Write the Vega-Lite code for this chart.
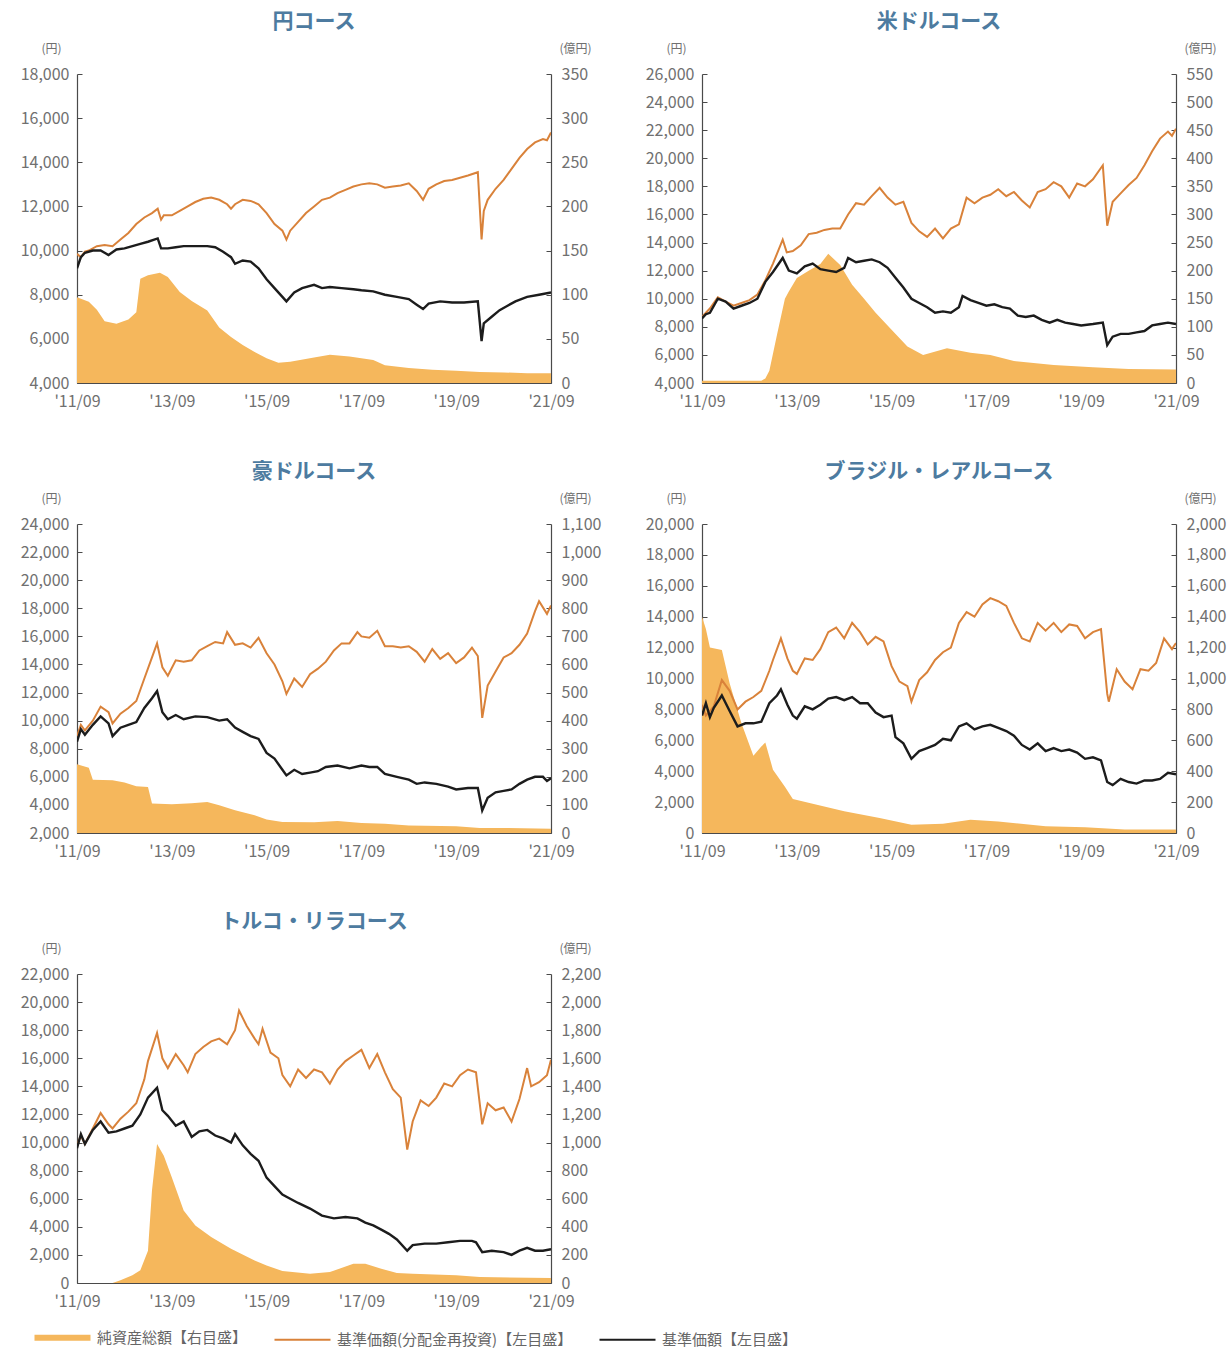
{
"$schema": "https://vega.github.io/schema/vega-lite/v6.json",
"padding": {"left": 20, "right": 5, "top": 11, "bottom": 5},
"background": "white",
"config": {
 "view": {"stroke": null},
 "font": "Noto Sans CJK JP",
 "axis": {"grid": false, "domainColor": "#4a4a4a", "tickColor": "#4a4a4a", "domainWidth": 1.2, "labelColor": "#707070", "labelFontSize": 16, "titleColor": "#707070", "titleFontSize": 12, "titleFontWeight": "normal", "labelFlush": false, "labelOverlap": false},
 "title": {"fontSize": 21, "fontWeight": "bold", "color": "#4d7ba0", "offset": 10},
 "legend": {"orient": "none", "legendX": -22, "legendY": 1256, "direction": "horizontal", "padding": 0, "symbolType": "stroke", "symbolSize": 3136, "symbolStrokeWidth": 2, "labelFontSize": 15, "labelColor": "#666666", "labelOffset": 27, "columnPadding": 22, "labelLimit": 0, "title": null}
},
"resolve": {"scale": {"color": "shared"}, "legend": {"color": "shared"}},
"columns": 2,
"spacing": {"row": 52, "column": 44},
"datasets": {
 "j_t": [{"d":"2011-09","v":97},{"d":"2011-12","v":92},{"d":"2012-02","v":83},{"d":"2012-04","v":70},{"d":"2012-07","v":67},{"d":"2012-10","v":72},{"d":"2012-12","v":80},{"d":"2013-01","v":118},{"d":"2013-03","v":122},{"d":"2013-06","v":125},{"d":"2013-08","v":120},{"d":"2013-11","v":103},{"d":"2014-02","v":93},{"d":"2014-06","v":82},{"d":"2014-09","v":63},{"d":"2014-12","v":52},{"d":"2015-03","v":43},{"d":"2015-06","v":35},{"d":"2015-09","v":28},{"d":"2015-12","v":23},{"d":"2016-03","v":24},{"d":"2016-09","v":29},{"d":"2017-01","v":32},{"d":"2017-06","v":30},{"d":"2017-12","v":26},{"d":"2018-03","v":20},{"d":"2018-09","v":17},{"d":"2019-03","v":15},{"d":"2019-09","v":14},{"d":"2020-03","v":12.5},{"d":"2020-09","v":12},{"d":"2021-03","v":11},{"d":"2021-09","v":11}],
 "j_r": [{"d":"2011-09","v":9850},{"d":"2011-10","v":9700},{"d":"2011-11","v":9950},{"d":"2011-12","v":10000},{"d":"2012-02","v":10200},{"d":"2012-04","v":10250},{"d":"2012-06","v":10200},{"d":"2012-08","v":10500},{"d":"2012-10","v":10800},{"d":"2012-12","v":11200},{"d":"2013-02","v":11500},{"d":"2013-04","v":11700},{"d":"2013-05-15","v":11900},{"d":"2013-06-10","v":11400},{"d":"2013-07","v":11600},{"d":"2013-09","v":11600},{"d":"2013-11","v":11800},{"d":"2014-01","v":12000},{"d":"2014-03","v":12200},{"d":"2014-05","v":12350},{"d":"2014-07","v":12400},{"d":"2014-09","v":12300},{"d":"2014-11","v":12100},{"d":"2014-12","v":11900},{"d":"2015-01","v":12100},{"d":"2015-03","v":12300},{"d":"2015-05","v":12250},{"d":"2015-07","v":12100},{"d":"2015-09","v":11700},{"d":"2015-11","v":11200},{"d":"2016-01","v":10900},{"d":"2016-02","v":10500},{"d":"2016-03","v":10900},{"d":"2016-05","v":11300},{"d":"2016-07","v":11700},{"d":"2016-09","v":12000},{"d":"2016-11","v":12300},{"d":"2017-01","v":12400},{"d":"2017-03","v":12600},{"d":"2017-05","v":12750},{"d":"2017-07","v":12900},{"d":"2017-09","v":13000},{"d":"2017-11","v":13050},{"d":"2018-01","v":13000},{"d":"2018-03","v":12850},{"d":"2018-05","v":12900},{"d":"2018-07","v":12950},{"d":"2018-09","v":13050},{"d":"2018-11","v":12700},{"d":"2018-12-20","v":12300},{"d":"2019-02","v":12800},{"d":"2019-04","v":13000},{"d":"2019-06","v":13150},{"d":"2019-08","v":13200},{"d":"2019-10","v":13300},{"d":"2019-12","v":13400},{"d":"2020-02-15","v":13550},{"d":"2020-03-15","v":10500},{"d":"2020-04","v":11800},{"d":"2020-05","v":12300},{"d":"2020-07","v":12800},{"d":"2020-09","v":13200},{"d":"2020-11","v":13700},{"d":"2021-01","v":14200},{"d":"2021-03","v":14600},{"d":"2021-05","v":14900},{"d":"2021-07","v":15050},{"d":"2021-08","v":15000},{"d":"2021-09","v":15350}],
 "j_n": [{"d":"2011-09","v":9200},{"d":"2011-10","v":9700},{"d":"2011-11","v":9900},{"d":"2012-01","v":10000},{"d":"2012-03","v":10000},{"d":"2012-05","v":9800},{"d":"2012-07","v":10050},{"d":"2012-09","v":10100},{"d":"2012-11","v":10200},{"d":"2013-01","v":10300},{"d":"2013-03","v":10400},{"d":"2013-05-15","v":10550},{"d":"2013-06-10","v":10100},{"d":"2013-08","v":10100},{"d":"2013-10","v":10150},{"d":"2013-12","v":10200},{"d":"2014-03","v":10200},{"d":"2014-06","v":10200},{"d":"2014-08","v":10150},{"d":"2014-10","v":9950},{"d":"2014-12","v":9700},{"d":"2015-01","v":9400},{"d":"2015-03","v":9550},{"d":"2015-05","v":9500},{"d":"2015-07","v":9200},{"d":"2015-09","v":8700},{"d":"2015-11","v":8300},{"d":"2016-01","v":7900},{"d":"2016-02","v":7700},{"d":"2016-04","v":8100},{"d":"2016-06","v":8300},{"d":"2016-09","v":8450},{"d":"2016-11","v":8300},{"d":"2017-01","v":8350},{"d":"2017-04","v":8300},{"d":"2017-07","v":8250},{"d":"2017-09","v":8200},{"d":"2017-12","v":8150},{"d":"2018-03","v":8000},{"d":"2018-06","v":7900},{"d":"2018-09","v":7800},{"d":"2018-11","v":7550},{"d":"2018-12-20","v":7350},{"d":"2019-02","v":7600},{"d":"2019-05","v":7700},{"d":"2019-08","v":7650},{"d":"2019-11","v":7650},{"d":"2020-02-15","v":7700},{"d":"2020-03-15","v":5900},{"d":"2020-04","v":6700},{"d":"2020-06","v":7000},{"d":"2020-08","v":7300},{"d":"2020-10","v":7500},{"d":"2020-12","v":7700},{"d":"2021-03","v":7900},{"d":"2021-06","v":8000},{"d":"2021-09","v":8100}],
 "u_t": [{"d":"2011-09","v":4},{"d":"2012-12","v":4},{"d":"2013-01","v":8},{"d":"2013-02","v":22},{"d":"2013-04","v":86},{"d":"2013-06","v":150},{"d":"2013-07","v":163},{"d":"2013-09","v":187},{"d":"2013-12","v":200},{"d":"2014-03","v":212},{"d":"2014-05","v":230},{"d":"2014-08","v":210},{"d":"2014-11","v":175},{"d":"2015-02","v":150},{"d":"2015-05","v":125},{"d":"2015-09","v":95},{"d":"2016-01","v":65},{"d":"2016-05","v":50},{"d":"2016-11","v":62},{"d":"2017-05","v":54},{"d":"2017-10","v":50},{"d":"2018-04","v":39},{"d":"2019-02","v":32},{"d":"2019-12","v":28},{"d":"2020-09","v":25},{"d":"2021-09","v":24}],
 "u_r": [{"d":"2011-09","v":8700},{"d":"2011-10","v":9000},{"d":"2011-11","v":9300},{"d":"2012-01","v":10100},{"d":"2012-03","v":9800},{"d":"2012-05","v":9500},{"d":"2012-07","v":9700},{"d":"2012-09","v":9900},{"d":"2012-11","v":10300},{"d":"2013-01","v":11300},{"d":"2013-03","v":12500},{"d":"2013-05-15","v":14200},{"d":"2013-06-15","v":13300},{"d":"2013-08","v":13400},{"d":"2013-10","v":13800},{"d":"2013-12","v":14600},{"d":"2014-02","v":14700},{"d":"2014-04","v":14900},{"d":"2014-06","v":15000},{"d":"2014-08","v":15000},{"d":"2014-10","v":16000},{"d":"2014-12","v":16800},{"d":"2015-02","v":16700},{"d":"2015-04","v":17300},{"d":"2015-06","v":17900},{"d":"2015-08","v":17200},{"d":"2015-10","v":16700},{"d":"2015-12","v":16900},{"d":"2016-02","v":15400},{"d":"2016-04","v":14800},{"d":"2016-06","v":14400},{"d":"2016-08","v":15000},{"d":"2016-10","v":14300},{"d":"2016-12","v":15000},{"d":"2017-02","v":15300},{"d":"2017-04","v":17200},{"d":"2017-06","v":16800},{"d":"2017-08","v":17200},{"d":"2017-10","v":17400},{"d":"2017-12","v":17800},{"d":"2018-02","v":17300},{"d":"2018-04","v":17600},{"d":"2018-06","v":17000},{"d":"2018-08","v":16500},{"d":"2018-10","v":17600},{"d":"2018-12","v":17800},{"d":"2019-02","v":18300},{"d":"2019-04","v":18000},{"d":"2019-06","v":17200},{"d":"2019-08","v":18200},{"d":"2019-10","v":18000},{"d":"2019-12","v":18500},{"d":"2020-02-15","v":19500},{"d":"2020-03-20","v":15200},{"d":"2020-05","v":16900},{"d":"2020-07","v":17500},{"d":"2020-09","v":18100},{"d":"2020-11","v":18600},{"d":"2021-01","v":19500},{"d":"2021-03","v":20500},{"d":"2021-05","v":21400},{"d":"2021-07","v":21900},{"d":"2021-08","v":21600},{"d":"2021-09","v":22100}],
 "u_n": [{"d":"2011-09","v":8600},{"d":"2011-10","v":8900},{"d":"2011-11","v":9000},{"d":"2012-01","v":10000},{"d":"2012-03","v":9800},{"d":"2012-05","v":9300},{"d":"2012-07","v":9500},{"d":"2012-09","v":9700},{"d":"2012-11","v":10000},{"d":"2013-01","v":11200},{"d":"2013-03","v":11900},{"d":"2013-05-15","v":12900},{"d":"2013-07","v":12000},{"d":"2013-09","v":11800},{"d":"2013-11","v":12300},{"d":"2014-01","v":12500},{"d":"2014-03","v":12100},{"d":"2014-05","v":12000},{"d":"2014-07","v":11900},{"d":"2014-09","v":12200},{"d":"2014-10","v":12900},{"d":"2014-12","v":12600},{"d":"2015-02","v":12700},{"d":"2015-04","v":12800},{"d":"2015-06","v":12600},{"d":"2015-08","v":12200},{"d":"2015-10","v":11500},{"d":"2015-12","v":10800},{"d":"2016-02","v":10000},{"d":"2016-04","v":9700},{"d":"2016-06","v":9400},{"d":"2016-08","v":9000},{"d":"2016-10","v":9100},{"d":"2016-12","v":9000},{"d":"2017-02","v":9400},{"d":"2017-03","v":10200},{"d":"2017-05","v":9900},{"d":"2017-07","v":9700},{"d":"2017-09","v":9500},{"d":"2017-11","v":9600},{"d":"2018-01","v":9400},{"d":"2018-03","v":9300},{"d":"2018-05","v":8800},{"d":"2018-07","v":8700},{"d":"2018-09","v":8800},{"d":"2018-11","v":8500},{"d":"2019-01","v":8300},{"d":"2019-03","v":8500},{"d":"2019-05","v":8300},{"d":"2019-07","v":8200},{"d":"2019-09","v":8100},{"d":"2019-12","v":8200},{"d":"2020-02-15","v":8300},{"d":"2020-03-20","v":6700},{"d":"2020-05","v":7300},{"d":"2020-07","v":7500},{"d":"2020-09","v":7500},{"d":"2020-11","v":7600},{"d":"2021-01","v":7700},{"d":"2021-03","v":8100},{"d":"2021-05","v":8200},{"d":"2021-07","v":8300},{"d":"2021-09","v":8200}],
 "a_t": [{"d":"2011-09","v":245},{"d":"2011-12","v":232},{"d":"2012-01","v":190},{"d":"2012-06","v":188},{"d":"2012-09","v":180},{"d":"2012-12","v":166},{"d":"2013-03","v":164},{"d":"2013-04","v":105},{"d":"2013-09","v":102},{"d":"2014-02","v":106},{"d":"2014-06","v":110},{"d":"2014-09","v":99},{"d":"2015-01","v":81},{"d":"2015-06","v":63},{"d":"2015-09","v":48},{"d":"2016-01","v":39},{"d":"2016-09","v":38},{"d":"2017-03","v":43},{"d":"2017-09","v":36},{"d":"2018-03","v":33},{"d":"2018-09","v":27},{"d":"2019-09","v":24},{"d":"2020-03","v":18},{"d":"2020-09","v":18},{"d":"2021-09","v":15}],
 "a_r": [{"d":"2011-09","v":8900},{"d":"2011-10","v":9700},{"d":"2011-11","v":9300},{"d":"2012-01","v":10000},{"d":"2012-03","v":11000},{"d":"2012-05","v":10600},{"d":"2012-06","v":9800},{"d":"2012-08","v":10500},{"d":"2012-10","v":10900},{"d":"2012-12","v":11400},{"d":"2013-02","v":13000},{"d":"2013-04","v":14500},{"d":"2013-05-10","v":15500},{"d":"2013-06-20","v":13800},{"d":"2013-08","v":13200},{"d":"2013-10","v":14300},{"d":"2013-12","v":14200},{"d":"2014-02","v":14300},{"d":"2014-04","v":15000},{"d":"2014-06","v":15300},{"d":"2014-08","v":15600},{"d":"2014-10","v":15500},{"d":"2014-11","v":16300},{"d":"2015-01","v":15400},{"d":"2015-03","v":15500},{"d":"2015-05","v":15200},{"d":"2015-07","v":15900},{"d":"2015-09","v":14800},{"d":"2015-11","v":14000},{"d":"2016-01","v":12800},{"d":"2016-02","v":11900},{"d":"2016-04","v":13000},{"d":"2016-06","v":12400},{"d":"2016-08","v":13300},{"d":"2016-10","v":13700},{"d":"2016-12","v":14200},{"d":"2017-02","v":15000},{"d":"2017-04","v":15500},{"d":"2017-06","v":15500},{"d":"2017-08","v":16300},{"d":"2017-09","v":16000},{"d":"2017-11","v":15900},{"d":"2018-01","v":16400},{"d":"2018-03","v":15300},{"d":"2018-05","v":15300},{"d":"2018-07","v":15200},{"d":"2018-09","v":15300},{"d":"2018-11","v":14900},{"d":"2019-01","v":14200},{"d":"2019-03","v":15100},{"d":"2019-05","v":14400},{"d":"2019-07","v":14800},{"d":"2019-09","v":14100},{"d":"2019-11","v":14500},{"d":"2020-01","v":15200},{"d":"2020-02-15","v":14600},{"d":"2020-03-20","v":10200},{"d":"2020-05","v":12500},{"d":"2020-07","v":13500},{"d":"2020-09","v":14500},{"d":"2020-11","v":14800},{"d":"2021-01","v":15400},{"d":"2021-03","v":16200},{"d":"2021-05","v":17800},{"d":"2021-06","v":18500},{"d":"2021-08","v":17600},{"d":"2021-09","v":18200}],
 "a_n": [{"d":"2011-09","v":8500},{"d":"2011-10","v":9400},{"d":"2011-11","v":9000},{"d":"2012-01","v":9700},{"d":"2012-03","v":10300},{"d":"2012-05","v":9800},{"d":"2012-06","v":8900},{"d":"2012-08","v":9500},{"d":"2012-10","v":9700},{"d":"2012-12","v":9900},{"d":"2013-02","v":10900},{"d":"2013-04","v":11600},{"d":"2013-05-10","v":12100},{"d":"2013-06-20","v":10600},{"d":"2013-08","v":10100},{"d":"2013-10","v":10400},{"d":"2013-12","v":10100},{"d":"2014-03","v":10300},{"d":"2014-06","v":10250},{"d":"2014-09","v":10000},{"d":"2014-11","v":10100},{"d":"2015-01","v":9500},{"d":"2015-03","v":9200},{"d":"2015-05","v":8900},{"d":"2015-07","v":8700},{"d":"2015-09","v":7700},{"d":"2015-11","v":7300},{"d":"2016-01","v":6500},{"d":"2016-02","v":6100},{"d":"2016-04","v":6500},{"d":"2016-06","v":6200},{"d":"2016-08","v":6300},{"d":"2016-10","v":6400},{"d":"2016-12","v":6700},{"d":"2017-03","v":6800},{"d":"2017-06","v":6600},{"d":"2017-09","v":6800},{"d":"2017-11","v":6700},{"d":"2018-01","v":6700},{"d":"2018-03","v":6200},{"d":"2018-06","v":6000},{"d":"2018-09","v":5800},{"d":"2018-11","v":5500},{"d":"2019-01","v":5600},{"d":"2019-04","v":5500},{"d":"2019-07","v":5300},{"d":"2019-09","v":5100},{"d":"2019-12","v":5200},{"d":"2020-02-15","v":5200},{"d":"2020-03-20","v":3600},{"d":"2020-05","v":4500},{"d":"2020-07","v":4900},{"d":"2020-09","v":5000},{"d":"2020-11","v":5100},{"d":"2021-01","v":5500},{"d":"2021-03","v":5800},{"d":"2021-05","v":6000},{"d":"2021-07","v":6000},{"d":"2021-08","v":5700},{"d":"2021-09","v":5900}],
 "b_t": [{"d":"2011-09","v":1400},{"d":"2011-10","v":1320},{"d":"2011-11","v":1200},{"d":"2012-02","v":1185},{"d":"2012-04","v":970},{"d":"2012-07","v":710},{"d":"2012-10","v":500},{"d":"2012-12","v":560},{"d":"2013-01","v":585},{"d":"2013-03","v":410},{"d":"2013-06","v":300},{"d":"2013-08","v":220},{"d":"2014-01","v":190},{"d":"2014-09","v":140},{"d":"2015-06","v":97},{"d":"2016-02","v":54},{"d":"2016-10","v":60},{"d":"2017-05","v":86},{"d":"2017-12","v":75},{"d":"2018-12","v":43},{"d":"2019-10","v":37},{"d":"2020-08","v":22},{"d":"2021-09","v":22}],
 "b_r": [{"d":"2011-09","v":8300},{"d":"2011-10","v":7600},{"d":"2011-12","v":8200},{"d":"2012-02","v":9900},{"d":"2012-04","v":9200},{"d":"2012-06","v":8000},{"d":"2012-08","v":8500},{"d":"2012-10","v":8800},{"d":"2012-12","v":9200},{"d":"2013-02","v":10500},{"d":"2013-03","v":11200},{"d":"2013-05","v":12600},{"d":"2013-06-20","v":11300},{"d":"2013-08","v":10500},{"d":"2013-09","v":10300},{"d":"2013-11","v":11300},{"d":"2014-01","v":11200},{"d":"2014-03","v":11900},{"d":"2014-05","v":13000},{"d":"2014-07","v":13300},{"d":"2014-09","v":12600},{"d":"2014-11","v":13600},{"d":"2015-01","v":13000},{"d":"2015-03","v":12200},{"d":"2015-05","v":12700},{"d":"2015-07","v":12400},{"d":"2015-09","v":10800},{"d":"2015-11","v":9800},{"d":"2016-01","v":9500},{"d":"2016-02","v":8500},{"d":"2016-04","v":9900},{"d":"2016-06","v":10400},{"d":"2016-08","v":11200},{"d":"2016-10","v":11700},{"d":"2016-12","v":12000},{"d":"2017-02","v":13600},{"d":"2017-04","v":14300},{"d":"2017-06","v":14000},{"d":"2017-08","v":14800},{"d":"2017-10","v":15200},{"d":"2017-12","v":15000},{"d":"2018-02","v":14700},{"d":"2018-04","v":13600},{"d":"2018-06","v":12600},{"d":"2018-08","v":12400},{"d":"2018-10","v":13600},{"d":"2018-12","v":13100},{"d":"2019-02","v":13600},{"d":"2019-04","v":13000},{"d":"2019-06","v":13500},{"d":"2019-08","v":13400},{"d":"2019-10","v":12600},{"d":"2019-12","v":13000},{"d":"2020-02","v":13200},{"d":"2020-03-20","v":9000},{"d":"2020-04","v":8500},{"d":"2020-06","v":10600},{"d":"2020-08","v":9800},{"d":"2020-10","v":9300},{"d":"2020-12","v":10600},{"d":"2021-02","v":10500},{"d":"2021-04","v":11000},{"d":"2021-06","v":12600},{"d":"2021-08","v":11900},{"d":"2021-09","v":12300}],
 "b_n": [{"d":"2011-09","v":7600},{"d":"2011-10","v":8400},{"d":"2011-11","v":7500},{"d":"2011-12","v":8100},{"d":"2012-02","v":8900},{"d":"2012-04","v":7900},{"d":"2012-06","v":6900},{"d":"2012-08","v":7100},{"d":"2012-10","v":7100},{"d":"2012-12","v":7200},{"d":"2013-02","v":8400},{"d":"2013-04","v":8900},{"d":"2013-05","v":9300},{"d":"2013-06-20","v":8300},{"d":"2013-08","v":7600},{"d":"2013-09","v":7400},{"d":"2013-11","v":8200},{"d":"2014-01","v":8000},{"d":"2014-03","v":8300},{"d":"2014-05","v":8700},{"d":"2014-07","v":8800},{"d":"2014-09","v":8600},{"d":"2014-11","v":8800},{"d":"2015-01","v":8400},{"d":"2015-03","v":8400},{"d":"2015-05","v":7800},{"d":"2015-07","v":7500},{"d":"2015-09","v":7600},{"d":"2015-10","v":6200},{"d":"2015-12","v":5800},{"d":"2016-02","v":4800},{"d":"2016-04","v":5300},{"d":"2016-06","v":5500},{"d":"2016-08","v":5700},{"d":"2016-10","v":6100},{"d":"2016-12","v":6000},{"d":"2017-02","v":6900},{"d":"2017-04","v":7100},{"d":"2017-06","v":6700},{"d":"2017-08","v":6900},{"d":"2017-10","v":7000},{"d":"2017-12","v":6800},{"d":"2018-02","v":6600},{"d":"2018-04","v":6300},{"d":"2018-06","v":5700},{"d":"2018-08","v":5400},{"d":"2018-10","v":5800},{"d":"2018-12","v":5300},{"d":"2019-02","v":5500},{"d":"2019-04","v":5300},{"d":"2019-06","v":5400},{"d":"2019-08","v":5200},{"d":"2019-10","v":4800},{"d":"2019-12","v":4900},{"d":"2020-02","v":4700},{"d":"2020-03-20","v":3300},{"d":"2020-05","v":3100},{"d":"2020-07","v":3500},{"d":"2020-09","v":3300},{"d":"2020-11","v":3200},{"d":"2021-01","v":3400},{"d":"2021-03","v":3400},{"d":"2021-05","v":3500},{"d":"2021-07","v":3900},{"d":"2021-09","v":3800}],
 "t_t": [{"d":"2011-09","v":0},{"d":"2012-06","v":0},{"d":"2012-08","v":20},{"d":"2012-11","v":55},{"d":"2013-01","v":90},{"d":"2013-03","v":230},{"d":"2013-04","v":660},{"d":"2013-05-10","v":990},{"d":"2013-07","v":906},{"d":"2013-09","v":752},{"d":"2013-12","v":516},{"d":"2014-03","v":410},{"d":"2014-07","v":327},{"d":"2014-12","v":244},{"d":"2015-06","v":161},{"d":"2015-09","v":125},{"d":"2016-01","v":85},{"d":"2016-08","v":66},{"d":"2017-01","v":78},{"d":"2017-07","v":137},{"d":"2017-10","v":137},{"d":"2018-02","v":102},{"d":"2018-06","v":71},{"d":"2018-10","v":66},{"d":"2019-09","v":55},{"d":"2020-03","v":43},{"d":"2021-09","v":35}],
 "t_r": [{"d":"2011-09","v":9800},{"d":"2011-10","v":10500},{"d":"2011-11","v":9900},{"d":"2012-01","v":11000},{"d":"2012-03","v":12100},{"d":"2012-05","v":11300},{"d":"2012-06","v":11000},{"d":"2012-08","v":11700},{"d":"2012-10","v":12200},{"d":"2012-12","v":12800},{"d":"2013-02","v":14500},{"d":"2013-03","v":15800},{"d":"2013-05-10","v":17800},{"d":"2013-06-20","v":16000},{"d":"2013-08","v":15300},{"d":"2013-10","v":16300},{"d":"2013-12","v":15500},{"d":"2014-01","v":15000},{"d":"2014-03","v":16300},{"d":"2014-05","v":16800},{"d":"2014-07","v":17200},{"d":"2014-09","v":17400},{"d":"2014-11","v":17000},{"d":"2015-01","v":18000},{"d":"2015-02","v":19400},{"d":"2015-04","v":18300},{"d":"2015-06","v":17400},{"d":"2015-07","v":17000},{"d":"2015-08","v":18100},{"d":"2015-10","v":16400},{"d":"2015-12","v":16000},{"d":"2016-01","v":14800},{"d":"2016-03","v":14000},{"d":"2016-05","v":15200},{"d":"2016-07","v":14600},{"d":"2016-09","v":15200},{"d":"2016-11","v":15000},{"d":"2017-01","v":14200},{"d":"2017-03","v":15200},{"d":"2017-05","v":15800},{"d":"2017-07","v":16200},{"d":"2017-09","v":16600},{"d":"2017-11","v":15300},{"d":"2018-01","v":16300},{"d":"2018-03","v":15000},{"d":"2018-05","v":13800},{"d":"2018-07","v":13200},{"d":"2018-08-20","v":9500},{"d":"2018-10","v":11500},{"d":"2018-12","v":13000},{"d":"2019-02","v":12600},{"d":"2019-04","v":13200},{"d":"2019-06","v":14200},{"d":"2019-08","v":14000},{"d":"2019-10","v":14800},{"d":"2019-12","v":15200},{"d":"2020-02","v":15000},{"d":"2020-03-20","v":11300},{"d":"2020-05","v":12800},{"d":"2020-07","v":12300},{"d":"2020-09","v":12500},{"d":"2020-11","v":11500},{"d":"2021-01","v":13100},{"d":"2021-03","v":15300},{"d":"2021-04","v":14000},{"d":"2021-06","v":14300},{"d":"2021-08","v":14800},{"d":"2021-09","v":15900}],
 "t_n": [{"d":"2011-09","v":9600},{"d":"2011-10","v":10600},{"d":"2011-11","v":9900},{"d":"2012-01","v":10900},{"d":"2012-03","v":11500},{"d":"2012-05","v":10700},{"d":"2012-07","v":10800},{"d":"2012-09","v":11000},{"d":"2012-11","v":11200},{"d":"2013-01","v":12000},{"d":"2013-03","v":13200},{"d":"2013-05-10","v":13900},{"d":"2013-06-20","v":12300},{"d":"2013-08","v":11900},{"d":"2013-10","v":11200},{"d":"2013-12","v":11500},{"d":"2014-02","v":10400},{"d":"2014-04","v":10800},{"d":"2014-06","v":10900},{"d":"2014-08","v":10500},{"d":"2014-10","v":10300},{"d":"2014-12","v":10000},{"d":"2015-01","v":10600},{"d":"2015-03","v":9800},{"d":"2015-05","v":9200},{"d":"2015-07","v":8700},{"d":"2015-09","v":7500},{"d":"2015-11","v":6900},{"d":"2016-01","v":6300},{"d":"2016-03","v":6000},{"d":"2016-05","v":5700},{"d":"2016-08","v":5300},{"d":"2016-11","v":4800},{"d":"2017-02","v":4600},{"d":"2017-05","v":4700},{"d":"2017-08","v":4600},{"d":"2017-10","v":4300},{"d":"2017-12","v":4100},{"d":"2018-02","v":3800},{"d":"2018-04","v":3500},{"d":"2018-06","v":3100},{"d":"2018-08-20","v":2300},{"d":"2018-10","v":2700},{"d":"2019-01","v":2800},{"d":"2019-04","v":2800},{"d":"2019-07","v":2900},{"d":"2019-10","v":3000},{"d":"2020-01","v":3000},{"d":"2020-02","v":2900},{"d":"2020-03-20","v":2200},{"d":"2020-06","v":2300},{"d":"2020-09","v":2200},{"d":"2020-11","v":2000},{"d":"2021-01","v":2300},{"d":"2021-03","v":2500},{"d":"2021-05","v":2300},{"d":"2021-07","v":2300},{"d":"2021-09","v":2400}]
},
"concat": [
 {"title": "円コース", "width": 474, "height": 309, "resolve": {"scale": {"y": "independent"}},
  "layer": [
   {"data": {"name": "j_t"}, "mark": {"type": "area", "opacity": 1, "clip": true},
    "encoding": {
     "x": {"field": "d", "type": "temporal", "scale": {"domain": [{"year": 2011, "month": 9, "date": 1}, {"year": 2021, "month": 9, "date": 1}]}, "axis": {"title": null, "values": [{"year": 2011, "month": 9, "date": 1}, {"year": 2013, "month": 9, "date": 1}, {"year": 2015, "month": 9, "date": 1}, {"year": 2017, "month": 9, "date": 1}, {"year": 2019, "month": 9, "date": 1}, {"year": 2021, "month": 9, "date": 1}], "format": "'%y/%m", "tickSize": -5, "labelPadding": 15, "labelOverlap": false}},
     "y": {"field": "v", "type": "quantitative", "scale": {"domain": [0, 350], "nice": false}, "axis": {"orient": "right", "title": "(億円)", "titleAngle": 0, "titleAlign": "center", "titleBaseline": "middle", "titleX": 24, "titleY": -26, "values": [0, 50, 100, 150, 200, 250, 300, 350], "format": ",d", "tickSize": -5, "labelPadding": 15, "labelOverlap": false}},
     "color": {"datum": "純資産総額【右目盛】", "type": "nominal", "scale": {"domain": ["純資産総額【右目盛】", "基準価額(分配金再投資)【左目盛】", "基準価額【左目盛】"], "range": ["#f5b75c", "#d9823a", "#1c1c1c"]}, "legend": {"title": null, "orient": "none", "legendX": -22, "legendY": 1256, "direction": "horizontal", "padding": 0, "symbolType": "stroke", "symbolSize": 3136, "symbolStrokeWidth": 2, "labelFontSize": 15, "labelColor": "#666666", "labelOffset": 27, "columnPadding": 22, "labelLimit": 0, "encode": {"symbols": {"update": {"strokeWidth": {"signal": "datum.value === '純資産総額【右目盛】' ? 6 : 2"}}}}}}
    }},
   {"layer": [
     {"data": {"name": "j_r"}, "mark": {"type": "line", "strokeWidth": 2, "clip": true},
      "encoding": {"x": {"field": "d", "type": "temporal"},
       "y": {"field": "v", "type": "quantitative", "scale": {"domain": [4000, 18000], "nice": false, "zero": false}, "axis": {"orient": "left", "title": "(円)", "titleAngle": 0, "titleAlign": "center", "titleBaseline": "middle", "titleX": -26, "titleY": -26, "values": [4000, 6000, 8000, 10000, 12000, 14000, 16000, 18000], "format": ",d", "tickSize": -5, "labelPadding": 13, "labelOverlap": false}},
       "color": {"datum": "基準価額(分配金再投資)【左目盛】", "type": "nominal", "legend": {"title": null, "orient": "none", "legendX": -22, "legendY": 1256, "direction": "horizontal", "padding": 0, "symbolType": "stroke", "symbolSize": 3136, "symbolStrokeWidth": 2, "labelFontSize": 15, "labelColor": "#666666", "labelOffset": 27, "columnPadding": 22, "labelLimit": 0, "encode": {"symbols": {"update": {"strokeWidth": {"signal": "datum.value === '純資産総額【右目盛】' ? 6 : 2"}}}}}}}},
     {"data": {"name": "j_n"}, "mark": {"type": "line", "strokeWidth": 2.4, "clip": true},
      "encoding": {"x": {"field": "d", "type": "temporal"}, "y": {"field": "v", "type": "quantitative", "axis": {"orient": "left", "title": "(円)", "titleAngle": 0, "titleAlign": "center", "titleBaseline": "middle", "titleX": -26, "titleY": -26, "values": [4000, 6000, 8000, 10000, 12000, 14000, 16000, 18000], "format": ",d", "tickSize": -5, "labelPadding": 13, "labelOverlap": false}}, "color": {"datum": "基準価額【左目盛】", "type": "nominal", "legend": {"title": null, "orient": "none", "legendX": -22, "legendY": 1256, "direction": "horizontal", "padding": 0, "symbolType": "stroke", "symbolSize": 3136, "symbolStrokeWidth": 2, "labelFontSize": 15, "labelColor": "#666666", "labelOffset": 27, "columnPadding": 22, "labelLimit": 0, "encode": {"symbols": {"update": {"strokeWidth": {"signal": "datum.value === '純資産総額【右目盛】' ? 6 : 2"}}}}}}}}
   ]}
  ]},
 {"title": "米ドルコース", "width": 474, "height": 309, "resolve": {"scale": {"y": "independent"}},
  "layer": [
   {"data": {"name": "u_t"}, "mark": {"type": "area", "opacity": 1, "clip": true},
    "encoding": {
     "x": {"field": "d", "type": "temporal", "scale": {"domain": [{"year": 2011, "month": 9, "date": 1}, {"year": 2021, "month": 9, "date": 1}]}, "axis": {"title": null, "values": [{"year": 2011, "month": 9, "date": 1}, {"year": 2013, "month": 9, "date": 1}, {"year": 2015, "month": 9, "date": 1}, {"year": 2017, "month": 9, "date": 1}, {"year": 2019, "month": 9, "date": 1}, {"year": 2021, "month": 9, "date": 1}], "format": "'%y/%m", "tickSize": -5, "labelPadding": 15, "labelOverlap": false}},
     "y": {"field": "v", "type": "quantitative", "scale": {"domain": [0, 550], "nice": false}, "axis": {"orient": "right", "title": "(億円)", "titleAngle": 0, "titleAlign": "center", "titleBaseline": "middle", "titleX": 24, "titleY": -26, "values": [0, 50, 100, 150, 200, 250, 300, 350, 400, 450, 500, 550], "format": ",d", "tickSize": -5, "labelPadding": 15, "labelOverlap": false}},
     "color": {"datum": "純資産総額【右目盛】", "type": "nominal"}
    }},
   {"layer": [
     {"data": {"name": "u_r"}, "mark": {"type": "line", "strokeWidth": 2, "clip": true},
      "encoding": {"x": {"field": "d", "type": "temporal"},
       "y": {"field": "v", "type": "quantitative", "scale": {"domain": [4000, 26000], "nice": false, "zero": false}, "axis": {"orient": "left", "title": "(円)", "titleAngle": 0, "titleAlign": "center", "titleBaseline": "middle", "titleX": -26, "titleY": -26, "values": [4000, 6000, 8000, 10000, 12000, 14000, 16000, 18000, 20000, 22000, 24000, 26000], "format": ",d", "tickSize": -5, "labelPadding": 13, "labelOverlap": false}},
       "color": {"datum": "基準価額(分配金再投資)【左目盛】", "type": "nominal"}}},
     {"data": {"name": "u_n"}, "mark": {"type": "line", "strokeWidth": 2.4, "clip": true},
      "encoding": {"x": {"field": "d", "type": "temporal"}, "y": {"field": "v", "type": "quantitative", "axis": {"orient": "left", "title": "(円)", "titleAngle": 0, "titleAlign": "center", "titleBaseline": "middle", "titleX": -26, "titleY": -26, "values": [4000, 6000, 8000, 10000, 12000, 14000, 16000, 18000, 20000, 22000, 24000, 26000], "format": ",d", "tickSize": -5, "labelPadding": 13, "labelOverlap": false}}, "color": {"datum": "基準価額【左目盛】", "type": "nominal"}}}
   ]}
  ]},
 {"title": "豪ドルコース", "width": 474, "height": 309, "resolve": {"scale": {"y": "independent"}},
  "layer": [
   {"data": {"name": "a_t"}, "mark": {"type": "area", "opacity": 1, "clip": true},
    "encoding": {
     "x": {"field": "d", "type": "temporal", "scale": {"domain": [{"year": 2011, "month": 9, "date": 1}, {"year": 2021, "month": 9, "date": 1}]}, "axis": {"title": null, "values": [{"year": 2011, "month": 9, "date": 1}, {"year": 2013, "month": 9, "date": 1}, {"year": 2015, "month": 9, "date": 1}, {"year": 2017, "month": 9, "date": 1}, {"year": 2019, "month": 9, "date": 1}, {"year": 2021, "month": 9, "date": 1}], "format": "'%y/%m", "tickSize": -5, "labelPadding": 15, "labelOverlap": false}},
     "y": {"field": "v", "type": "quantitative", "scale": {"domain": [0, 1100], "nice": false}, "axis": {"orient": "right", "title": "(億円)", "titleAngle": 0, "titleAlign": "center", "titleBaseline": "middle", "titleX": 24, "titleY": -26, "values": [0, 100, 200, 300, 400, 500, 600, 700, 800, 900, 1000, 1100], "format": ",d", "tickSize": -5, "labelPadding": 15, "labelOverlap": false}},
     "color": {"datum": "純資産総額【右目盛】", "type": "nominal"}
    }},
   {"layer": [
     {"data": {"name": "a_r"}, "mark": {"type": "line", "strokeWidth": 2, "clip": true},
      "encoding": {"x": {"field": "d", "type": "temporal"},
       "y": {"field": "v", "type": "quantitative", "scale": {"domain": [2000, 24000], "nice": false, "zero": false}, "axis": {"orient": "left", "title": "(円)", "titleAngle": 0, "titleAlign": "center", "titleBaseline": "middle", "titleX": -26, "titleY": -26, "values": [2000, 4000, 6000, 8000, 10000, 12000, 14000, 16000, 18000, 20000, 22000, 24000], "format": ",d", "tickSize": -5, "labelPadding": 13, "labelOverlap": false}},
       "color": {"datum": "基準価額(分配金再投資)【左目盛】", "type": "nominal"}}},
     {"data": {"name": "a_n"}, "mark": {"type": "line", "strokeWidth": 2.4, "clip": true},
      "encoding": {"x": {"field": "d", "type": "temporal"}, "y": {"field": "v", "type": "quantitative", "axis": {"orient": "left", "title": "(円)", "titleAngle": 0, "titleAlign": "center", "titleBaseline": "middle", "titleX": -26, "titleY": -26, "values": [2000, 4000, 6000, 8000, 10000, 12000, 14000, 16000, 18000, 20000, 22000, 24000], "format": ",d", "tickSize": -5, "labelPadding": 13, "labelOverlap": false}}, "color": {"datum": "基準価額【左目盛】", "type": "nominal"}}}
   ]}
  ]},
 {"title": "ブラジル・レアルコース", "width": 474, "height": 309, "resolve": {"scale": {"y": "independent"}},
  "layer": [
   {"data": {"name": "b_t"}, "mark": {"type": "area", "opacity": 1, "clip": true},
    "encoding": {
     "x": {"field": "d", "type": "temporal", "scale": {"domain": [{"year": 2011, "month": 9, "date": 1}, {"year": 2021, "month": 9, "date": 1}]}, "axis": {"title": null, "values": [{"year": 2011, "month": 9, "date": 1}, {"year": 2013, "month": 9, "date": 1}, {"year": 2015, "month": 9, "date": 1}, {"year": 2017, "month": 9, "date": 1}, {"year": 2019, "month": 9, "date": 1}, {"year": 2021, "month": 9, "date": 1}], "format": "'%y/%m", "tickSize": -5, "labelPadding": 15, "labelOverlap": false}},
     "y": {"field": "v", "type": "quantitative", "scale": {"domain": [0, 2000], "nice": false}, "axis": {"orient": "right", "title": "(億円)", "titleAngle": 0, "titleAlign": "center", "titleBaseline": "middle", "titleX": 24, "titleY": -26, "values": [0, 200, 400, 600, 800, 1000, 1200, 1400, 1600, 1800, 2000], "format": ",d", "tickSize": -5, "labelPadding": 15, "labelOverlap": false}},
     "color": {"datum": "純資産総額【右目盛】", "type": "nominal"}
    }},
   {"layer": [
     {"data": {"name": "b_r"}, "mark": {"type": "line", "strokeWidth": 2, "clip": true},
      "encoding": {"x": {"field": "d", "type": "temporal"},
       "y": {"field": "v", "type": "quantitative", "scale": {"domain": [0, 20000], "nice": false}, "axis": {"orient": "left", "title": "(円)", "titleAngle": 0, "titleAlign": "center", "titleBaseline": "middle", "titleX": -26, "titleY": -26, "values": [0, 2000, 4000, 6000, 8000, 10000, 12000, 14000, 16000, 18000, 20000], "format": ",d", "tickSize": -5, "labelPadding": 13, "labelOverlap": false}},
       "color": {"datum": "基準価額(分配金再投資)【左目盛】", "type": "nominal"}}},
     {"data": {"name": "b_n"}, "mark": {"type": "line", "strokeWidth": 2.4, "clip": true},
      "encoding": {"x": {"field": "d", "type": "temporal"}, "y": {"field": "v", "type": "quantitative", "axis": {"orient": "left", "title": "(円)", "titleAngle": 0, "titleAlign": "center", "titleBaseline": "middle", "titleX": -26, "titleY": -26, "values": [0, 2000, 4000, 6000, 8000, 10000, 12000, 14000, 16000, 18000, 20000], "format": ",d", "tickSize": -5, "labelPadding": 13, "labelOverlap": false}}, "color": {"datum": "基準価額【左目盛】", "type": "nominal"}}}
   ]}
  ]},
 {"title": "トルコ・リラコース", "width": 474, "height": 309, "resolve": {"scale": {"y": "independent"}},
  "layer": [
   {"data": {"name": "t_t"}, "mark": {"type": "area", "opacity": 1, "clip": true},
    "encoding": {
     "x": {"field": "d", "type": "temporal", "scale": {"domain": [{"year": 2011, "month": 9, "date": 1}, {"year": 2021, "month": 9, "date": 1}]}, "axis": {"title": null, "values": [{"year": 2011, "month": 9, "date": 1}, {"year": 2013, "month": 9, "date": 1}, {"year": 2015, "month": 9, "date": 1}, {"year": 2017, "month": 9, "date": 1}, {"year": 2019, "month": 9, "date": 1}, {"year": 2021, "month": 9, "date": 1}], "format": "'%y/%m", "tickSize": -5, "labelPadding": 15, "labelOverlap": false}},
     "y": {"field": "v", "type": "quantitative", "scale": {"domain": [0, 2200], "nice": false}, "axis": {"orient": "right", "title": "(億円)", "titleAngle": 0, "titleAlign": "center", "titleBaseline": "middle", "titleX": 24, "titleY": -26, "values": [0, 200, 400, 600, 800, 1000, 1200, 1400, 1600, 1800, 2000, 2200], "format": ",d", "tickSize": -5, "labelPadding": 15, "labelOverlap": false}},
     "color": {"datum": "純資産総額【右目盛】", "type": "nominal"}
    }},
   {"layer": [
     {"data": {"name": "t_r"}, "mark": {"type": "line", "strokeWidth": 2, "clip": true},
      "encoding": {"x": {"field": "d", "type": "temporal"},
       "y": {"field": "v", "type": "quantitative", "scale": {"domain": [0, 22000], "nice": false}, "axis": {"orient": "left", "title": "(円)", "titleAngle": 0, "titleAlign": "center", "titleBaseline": "middle", "titleX": -26, "titleY": -26, "values": [0, 2000, 4000, 6000, 8000, 10000, 12000, 14000, 16000, 18000, 20000, 22000], "format": ",d", "tickSize": -5, "labelPadding": 13, "labelOverlap": false}},
       "color": {"datum": "基準価額(分配金再投資)【左目盛】", "type": "nominal"}}},
     {"data": {"name": "t_n"}, "mark": {"type": "line", "strokeWidth": 2.4, "clip": true},
      "encoding": {"x": {"field": "d", "type": "temporal"}, "y": {"field": "v", "type": "quantitative", "axis": {"orient": "left", "title": "(円)", "titleAngle": 0, "titleAlign": "center", "titleBaseline": "middle", "titleX": -26, "titleY": -26, "values": [0, 2000, 4000, 6000, 8000, 10000, 12000, 14000, 16000, 18000, 20000, 22000], "format": ",d", "tickSize": -5, "labelPadding": 13, "labelOverlap": false}}, "color": {"datum": "基準価額【左目盛】", "type": "nominal"}}}
   ]}
  ]}
]
}
